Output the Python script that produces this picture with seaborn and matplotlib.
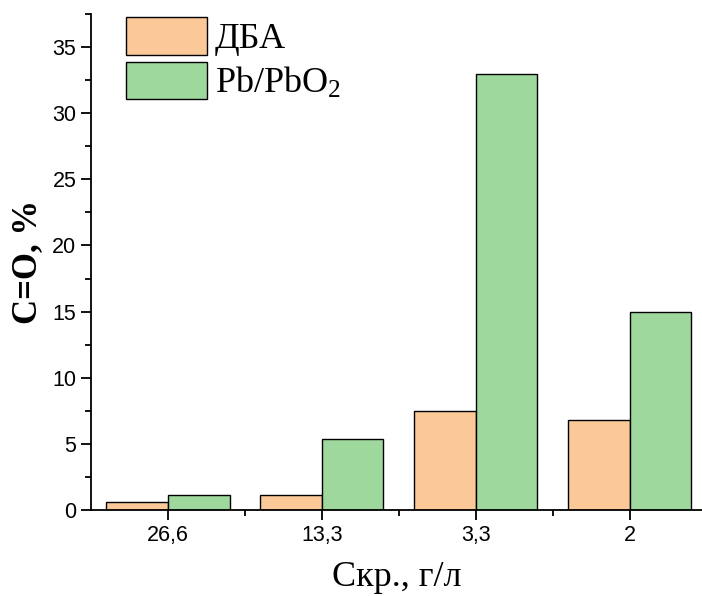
import matplotlib
matplotlib.use("Agg")
import matplotlib.pyplot as plt
import seaborn as sns
import pandas as pd
from matplotlib.ticker import MultipleLocator, FixedLocator

categories = ["26,6", "13,3", "3,3", "2"]
series_names = ["ДБА", "Pb/PbO$_{\\mathregular{2}}$"]
dba_values = [0.6, 1.1, 7.5, 6.8]
pb_values = [1.1, 5.4, 33.0, 15.0]
colors = ["#FBC898", "#9ED89D"]

df = pd.DataFrame({
    "cat": categories * 2,
    "val": dba_values + pb_values,
    "series": [series_names[0]] * 4 + [series_names[1]] * 4,
})

sns.set_style("ticks")
plt.rcParams.update({
    "text.color": "black", "axes.labelcolor": "black",
    "xtick.color": "black", "ytick.color": "black",
    "axes.edgecolor": "black",
    "mathtext.fontset": "custom",
    "mathtext.rm": "Liberation Serif",
    "mathtext.it": "Liberation Serif:italic",
    "mathtext.bf": "Liberation Serif:bold",
})

fig = plt.figure(figsize=(7.02, 5.96), dpi=100)
ax = fig.add_axes([91/702, 1-510/596, 1-91/702, (510-14)/596])

sns.barplot(data=df, x="cat", y="val", hue="series", order=categories,
            hue_order=series_names, palette=colors, edgecolor="black",
            linewidth=1.0, width=0.8, ax=ax, saturation=1)

ax.set_xlim(-0.5, 3.47)
ax.set_ylim(0, 37.5)
ax.yaxis.set_major_locator(MultipleLocator(5))
ax.yaxis.set_minor_locator(MultipleLocator(2.5))
ax.xaxis.set_minor_locator(FixedLocator([0.5, 1.5, 2.5]))
for s in ["top", "right"]:
    ax.spines[s].set_visible(False)
for s in ["left", "bottom"]:
    ax.spines[s].set_linewidth(1.3)
    ax.spines[s].set_color("black")
ax.tick_params(axis="both", which="major", direction="out", length=7, width=1.3,
               labelsize=15.5, colors="black")
ax.tick_params(axis="both", which="minor", direction="out", length=4, width=1.3,
               colors="black")
for lab in ax.get_xticklabels() + ax.get_yticklabels():
    lab.set_family("Liberation Sans")

ax.set_xlabel("Скр., г/л", family="Liberation Serif", fontsize=26, labelpad=11)
ax.set_ylabel("C=O, %", family="Liberation Serif", fontsize=25, fontweight="bold",
              labelpad=6)

leg = ax.legend(loc="upper left", bbox_to_anchor=(0.057, 0.994), frameon=False,
                prop={"family": "Liberation Serif", "size": 26},
                handlelength=2.24, handleheight=1.24, handletextpad=0.22,
                labelspacing=0.15, borderaxespad=0.0, borderpad=0.0)

fig.savefig("out.png", dpi=100)
